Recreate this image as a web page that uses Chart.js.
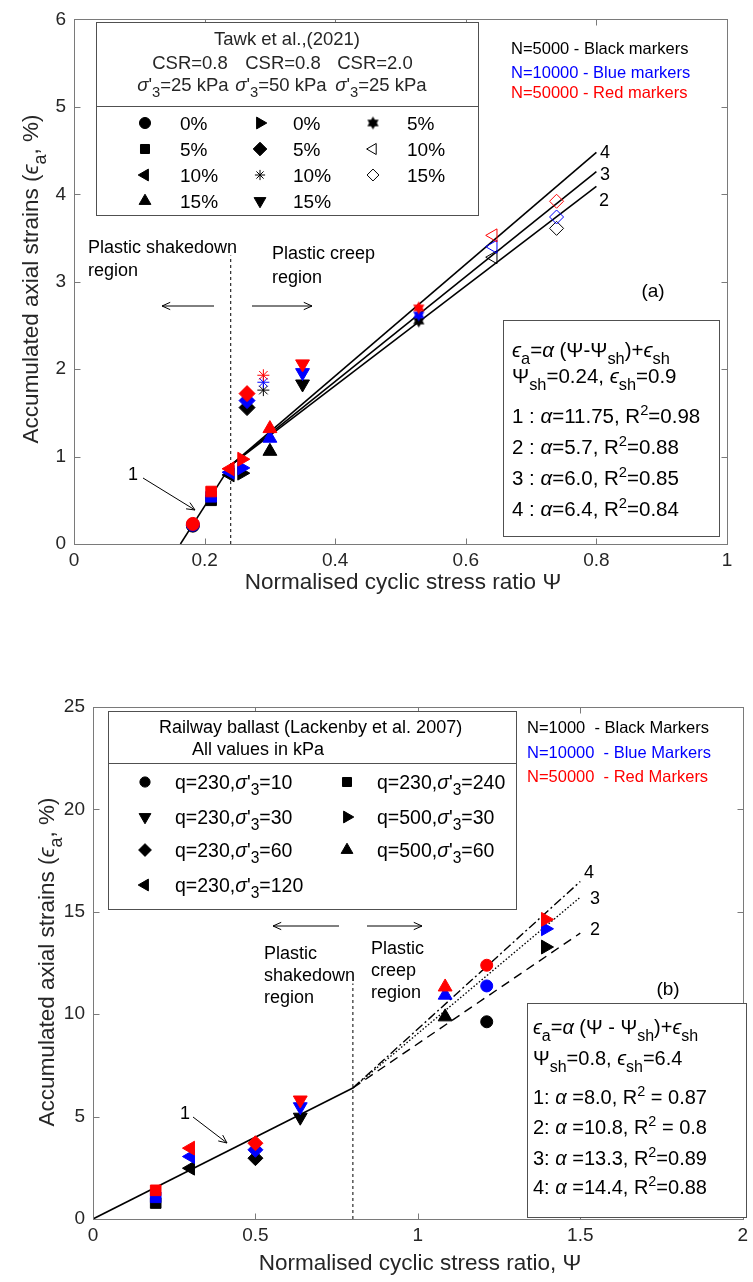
<!DOCTYPE html>
<html lang="en">
<head>
<meta charset="UTF-8" />
<title>Accumulated axial strain vs normalised cyclic stress ratio</title>
<script src="https://cdn.jsdelivr.net/npm/chart.js"></script>
<style>
  body { margin: 0; background: #fff; }
  .wrap { position: relative; width: 753px; height: 1282px; }
  canvas { position: absolute; left: 0; }
  #chartTop { top: 0; }
  #chartBottom { top: 640px; }
</style>
</head>
<body>
<div class="wrap">
  <canvas id="chartTop" width="753" height="640"></canvas>
  <canvas id="chartBottom" width="753" height="642"></canvas>
</div>
<script>
// ---------- panel (a): Tawk et al. (2021) ----------
const topLegendText = ['0%', '5%', '10%', '15%', '0%', '5%', '10%', '15%', '5%', '10%', '15%'];
const topPsi      = [0.182, 0.210, 0.239, 0.300, 0.257, 0.265, 0.290, 0.350, 0.528, 0.642, 0.739];
const topEpsN5000  = [0.21, 0.50, 0.79, 1.06, 0.81, 1.56, 1.76, 1.83, 2.55, 3.28, 3.61];
const topEpsN10000 = [0.22, 0.54, 0.82, 1.21, 0.87, 1.64, 1.85, 1.96, 2.62, 3.40, 3.74];
const topEpsN50000 = [0.23, 0.60, 0.86, 1.32, 0.97, 1.72, 1.93, 2.06, 2.70, 3.53, 3.92];
const topXTicks = [0, 0.2, 0.4, 0.6, 0.8, 1];
const topXTickLabels = ['0', '0.2', '0.4', '0.6', '0.8', '1'];
const topYTicks = [0, 1, 2, 3, 4, 5, 6];
const topYTickLabels = ['0', '1', '2', '3', '4', '5', '6'];
// fitted lines
const topFit1Psi = [0.163, 0.24];
const topFit1Eps = [0, 0.9];
const topFitPsi  = [0.24, 0.8];
const topFit2Eps = [0.9, 4.09];
const topFit3Eps = [0.9, 4.26];
const topFit4Eps = [0.9, 4.48];
const topShakePsi = [0.24, 0.24];
const topShakeEps = [0, 3.3];

// ---------- panel (b): Lackenby et al. (2007) ----------
const botLegendText = ['q=230,σ\'_{3}=10', 'q=230,σ\'_{3}=240', 'q=230,σ\'_{3}=30', 'q=500,σ\'_{3}=30',
                       'q=230,σ\'_{3}=60', 'q=500,σ\'_{3}=60', 'q=230,σ\'_{3}=120'];
const botPsi       = [1.212, 0.193, 0.638, 1.393, 0.500, 1.084, 0.300];
const botEpsN1000  = [9.63, 0.78, 4.97, 13.28, 2.97, 9.87, 2.48];
const botEpsN10000 = [11.38, 1.06, 5.48, 14.17, 3.38, 10.93, 3.05];
const botEpsN50000 = [12.39, 1.40, 5.81, 14.63, 3.70, 11.33, 3.46];
const botXTicks = [0, 0.5, 1, 1.5, 2];
const botXTickLabels = ['0', '0.5', '1', '1.5', '2'];
const botYTicks = [0, 5, 10, 15, 20, 25];
const botYTickLabels = ['0', '5', '10', '15', '20', '25'];
const botFit1Psi = [0, 0.8];
const botFit1Eps = [0, 6.4];
const botFitPsi  = [0.8, 1.5];
const botFit2Eps = [6.4, 13.96];
const botFit3Eps = [6.4, 15.71];
const botFit4Eps = [6.4, 16.48];
const botShakePsi = [0.8, 0.8];
const botShakeEps = [0, 11.5];

// ---------- styles ----------
const FONT = '"Liberation Sans", Arial, Helvetica, sans-serif';
const AXIS = '#7a7a7a';
const TEXT = '#262626';
const BLACK = '#000000', BLUE = '#0000ff', RED = '#ff0000';

function hexagram(color, r) {
  const c = document.createElement('canvas');
  c.width = c.height = Math.ceil(2 * r + 2);
  const g = c.getContext('2d');
  const cx = c.width / 2, cy = c.height / 2;
  g.fillStyle = color;
  [0, 180].forEach(function (off) {
    g.beginPath();
    for (let k = 0; k < 3; k++) {
      const a = (off + k * 120 - 90) * Math.PI / 180;
      const px = cx + Math.cos(a) * r, py = cy + Math.sin(a) * r;
      if (k === 0) g.moveTo(px, py); else g.lineTo(px, py);
    }
    g.closePath();
    g.fill();
  });
  return c;
}

// marker styles per category (same order as the data arrays)
const topStyles = [
  { s: 'circle', r: 6.5, rot: 0 },
  { s: 'rect', r: 7.5, rot: 0 },
  { s: 'triangle', r: 8, rot: 270 },
  { s: 'triangle', r: 8, rot: 0 },
  { s: 'triangle', r: 8, rot: 90 },
  { s: 'rectRot', r: 8, rot: 0 },
  { s: 'star', r: 6, rot: 0 },
  { s: 'triangle', r: 8, rot: 180 },
  { s: 'hex', r: 6.5, rot: 0 },
  { s: 'triangle', r: 7.5, rot: 270, open: true },
  { s: 'rectRot', r: 7, rot: 0, open: true }
];
const botStyles = [
  { s: 'circle', r: 6, rot: 0 },
  { s: 'rect', r: 7.5, rot: 0 },
  { s: 'triangle', r: 8, rot: 180 },
  { s: 'triangle', r: 8, rot: 90 },
  { s: 'rectRot', r: 7.5, rot: 0 },
  { s: 'triangle', r: 8, rot: 0 },
  { s: 'triangle', r: 8, rot: 270 }
];

function pointStyleFor(st, color) {
  return st.s === 'hex' ? hexagram(color, st.r) : st.s;
}

function markerDataset(label, psi, eps, styles, color, order) {
  return {
    label: label,
    data: psi.map(function (p, i) { return { x: p, y: eps[i] }; }),
    showLine: false,
    pointStyle: styles.map(function (st) { return pointStyleFor(st, color); }),
    pointRadius: styles.map(function (st) { return st.r; }),
    pointRotation: styles.map(function (st) { return st.rot; }),
    pointBackgroundColor: styles.map(function (st) { return st.open ? 'rgba(0,0,0,0)' : color; }),
    pointBorderColor: color,
    pointBorderWidth: 1,
    order: order
  };
}

function lineDataset(psi, eps, dash, width) {
  return {
    data: psi.map(function (p, i) { return { x: p, y: eps[i] }; }),
    showLine: true,
    borderColor: '#000',
    borderWidth: width || 1.6,
    borderDash: dash || [],
    pointRadius: 0,
    fill: false,
    order: 10
  };
}

// ---------- text helpers ----------
function setFont(ctx, size, italic) {
  ctx.font = (italic ? 'italic ' : '') + size + 'px ' + FONT;
}
function parseRich(str) {
  const out = [];
  str.split(/(_\{[^}]*\}|\^\{[^}]*\})/).forEach(function (piece) {
    if (!piece) return;
    if (piece.indexOf('_{') === 0) out.push([piece.slice(2, -1), 'b']);
    else if (piece.indexOf('^{') === 0) out.push([piece.slice(2, -1), 'p']);
    else piece.split(/([αϵσ])/).forEach(function (q) {
      if (q) out.push([q, /[αϵσ]/.test(q) ? 'i' : '']);
    });
  });
  return out;
}
function rich(ctx, str, x, cy, size, align, color) {
  const segs = parseRich(str).map(function (p) {
    const fs = p[1] === 'b' ? size * 0.8 : p[1] === 'p' ? size * 0.72 : size;
    setFont(ctx, fs, p[1] === 'i');
    return { t: p[0], k: p[1], fs: fs, w: ctx.measureText(p[0]).width };
  });
  const total = segs.reduce(function (a, s) { return a + s.w; }, 0);
  let sx = align === 'center' ? x - total / 2 : align === 'right' ? x - total : x;
  const base = cy + size * 0.36;
  ctx.fillStyle = color || TEXT;
  ctx.textAlign = 'left';
  ctx.textBaseline = 'alphabetic';
  segs.forEach(function (s) {
    setFont(ctx, s.fs, s.k === 'i');
    const dy = s.k === 'b' ? size * 0.33 : s.k === 'p' ? -size * 0.42 : 0;
    ctx.fillText(s.t, sx, base + dy);
    sx += s.w;
  });
  return total;
}
function arrow(ctx, x1, y1, x2, y2) {
  const a = Math.atan2(y2 - y1, x2 - x1), h = 9, sp = 0.42;
  ctx.beginPath();
  ctx.moveTo(x1, y1); ctx.lineTo(x2, y2);
  ctx.moveTo(x2 - h * Math.cos(a - sp), y2 - h * Math.sin(a - sp));
  ctx.lineTo(x2, y2);
  ctx.lineTo(x2 - h * Math.cos(a + sp), y2 - h * Math.sin(a + sp));
  ctx.stroke();
}
function legendMarker(ctx, st, x, y) {
  ctx.save();
  ctx.fillStyle = st.open ? 'rgba(0,0,0,0)' : '#000';
  ctx.strokeStyle = '#000';
  ctx.lineWidth = 1;
  Chart.helpers.drawPoint(ctx, {
    pointStyle: pointStyleFor(st, '#000'),
    radius: st.r * 0.85,
    rotation: st.rot,
    borderWidth: 1
  }, x, y);
  ctx.restore();
}
function drawFrame(chart, xt, yt) {
  const ctx = chart.ctx, a = chart.chartArea, sx = chart.scales.x, sy = chart.scales.y;
  const L = Math.round(a.left) + 0.5, R = Math.round(a.right) + 0.5;
  const T = Math.round(a.top) + 0.5, B = Math.round(a.bottom) + 0.5;
  ctx.save();
  ctx.strokeStyle = AXIS;
  ctx.lineWidth = 1;
  ctx.strokeRect(L, T, R - L, B - T);
  ctx.beginPath();
  xt.forEach(function (v) {
    const p = Math.round(sx.getPixelForValue(v)) + 0.5;
    ctx.moveTo(p, B); ctx.lineTo(p, B - 6);
    ctx.moveTo(p, T); ctx.lineTo(p, T + 6);
  });
  yt.forEach(function (v) {
    const p = Math.round(sy.getPixelForValue(v)) + 0.5;
    ctx.moveTo(L, p); ctx.lineTo(L + 6, p);
    ctx.moveTo(R, p); ctx.lineTo(R - 6, p);
  });
  ctx.stroke();
  ctx.restore();
}
function box(ctx, x, y, w, h) {
  ctx.fillStyle = '#fff';
  ctx.fillRect(x, y, w, h);
  ctx.strokeStyle = '#505050';
  ctx.lineWidth = 1;
  ctx.strokeRect(x + 0.5, y + 0.5, w, h);
}

function axisOptions(xMin, xMax, yMin, yMax, xt, xl, yt, yl, yWidth, xHeight) {
  const tickFont = { family: FONT, size: 19 };
  return {
    x: {
      type: 'linear', min: xMin, max: xMax,
      afterBuildTicks: function (s) { s.ticks = xt.map(function (v) { return { value: v }; }); },
      afterFit: function (s) { s.height = xHeight; },
      ticks: { callback: function (v, i) { return xl[i]; }, font: tickFont, color: TEXT, padding: 5, maxRotation: 0, autoSkip: false },
      grid: { display: false, drawTicks: false }, border: { display: false }
    },
    y: {
      type: 'linear', min: yMin, max: yMax,
      afterBuildTicks: function (s) { s.ticks = yt.map(function (v) { return { value: v }; }); },
      afterFit: function (s) { s.width = yWidth; },
      ticks: { callback: function (v, i) { return yl[i]; }, font: tickFont, color: TEXT, padding: 8, autoSkip: false },
      grid: { display: false, drawTicks: false }, border: { display: false }
    }
  };
}

// ---------- panel (a) ----------
const topAnnotations = {
  id: 'topAnnotations',
  afterDraw: function (chart) {
    const ctx = chart.ctx;
    drawFrame(chart, topXTicks, topYTicks);
    ctx.save();
    // axis titles
    rich(ctx, 'Normalised cyclic stress ratio Ψ', 403, 581, 22.5, 'center');
    ctx.save();
    ctx.translate(30, 279);
    ctx.rotate(-Math.PI / 2);
    rich(ctx, 'Accumulated axial strains (ϵ_{a}, %)', 0, 0, 22.5, 'center');
    ctx.restore();

    // legend box
    box(ctx, 96, 22, 382, 193);
    ctx.strokeStyle = '#505050';
    ctx.beginPath(); ctx.moveTo(96, 106.5); ctx.lineTo(478, 106.5); ctx.stroke();
    rich(ctx, 'Tawk et al.,(2021)', 287, 38, 18.5, 'center');
    rich(ctx, 'CSR=0.8', 190, 62, 18.5, 'center');
    rich(ctx, 'CSR=0.8', 283, 62, 18.5, 'center');
    rich(ctx, 'CSR=2.0', 375, 62, 18.5, 'center');
    rich(ctx, 'σ\'_{3}=25 kPa', 183, 84, 18.5, 'center');
    rich(ctx, 'σ\'_{3}=50 kPa', 281, 84, 18.5, 'center');
    rich(ctx, 'σ\'_{3}=25 kPa', 381, 84, 18.5, 'center');
    const colMarker = [145, 260, 373], colText = [180, 293, 407], rowY = [123, 149, 175, 201];
    const slots = [[0, 0], [0, 1], [0, 2], [0, 3], [1, 0], [1, 1], [1, 2], [1, 3], [2, 0], [2, 1], [2, 2]];
    topLegendText.forEach(function (t, i) {
      const c = slots[i][0], r = slots[i][1];
      legendMarker(ctx, topStyles[i], colMarker[c], rowY[r]);
      rich(ctx, t, colText[c], rowY[r], 19, 'left', '#000');
    });

    // N colour key
    rich(ctx, 'N=5000 - Black markers', 511, 48, 16.5, 'left', BLACK);
    rich(ctx, 'N=10000 - Blue markers', 511, 72, 16.5, 'left', BLUE);
    rich(ctx, 'N=50000 - Red markers', 511, 92, 16.5, 'left', RED);

    // regions
    rich(ctx, 'Plastic shakedown', 88, 247, 18, 'left', '#000');
    rich(ctx, 'region', 88, 270, 18, 'left', '#000');
    rich(ctx, 'Plastic creep', 272, 253, 18, 'left', '#000');
    rich(ctx, 'region', 272, 277, 18, 'left', '#000');
    ctx.strokeStyle = '#000';
    ctx.lineWidth = 1;
    arrow(ctx, 214, 306, 162, 306);
    arrow(ctx, 252, 306, 312, 306);
    arrow(ctx, 143, 478, 195, 510);
    rich(ctx, '1', 133, 474, 18, 'center', '#000');
    rich(ctx, '4', 605, 152, 18, 'center', '#000');
    rich(ctx, '3', 605, 174, 18, 'center', '#000');
    rich(ctx, '2', 604, 200, 18, 'center', '#000');
    rich(ctx, '(a)', 653, 290, 19, 'center', '#000');

    // equation box
    box(ctx, 503, 320, 216, 216);
    rich(ctx, 'ϵ_{a}=α (Ψ-Ψ_{sh})+ϵ_{sh}', 512, 350, 20.5, 'left', '#000');
    rich(ctx, 'Ψ_{sh}=0.24, ϵ_{sh}=0.9', 512, 376, 20.5, 'left', '#000');
    rich(ctx, '1 : α=11.75, R^{2}=0.98', 512, 416, 20.5, 'left', '#000');
    rich(ctx, '2 : α=5.7, R^{2}=0.88', 512, 447, 20.5, 'left', '#000');
    rich(ctx, '3 : α=6.0, R^{2}=0.85', 512, 478, 20.5, 'left', '#000');
    rich(ctx, '4 : α=6.4, R^{2}=0.84', 512, 509, 20.5, 'left', '#000');
    ctx.restore();
  }
};

new Chart(document.getElementById('chartTop'), {
  type: 'scatter',
  data: {
    datasets: [
      markerDataset('N=50000', topPsi, topEpsN50000, topStyles, RED, 1),
      markerDataset('N=10000', topPsi, topEpsN10000, topStyles, BLUE, 2),
      markerDataset('N=5000', topPsi, topEpsN5000, topStyles, BLACK, 3),
      lineDataset(topFit1Psi, topFit1Eps),
      lineDataset(topFitPsi, topFit2Eps),
      lineDataset(topFitPsi, topFit3Eps),
      lineDataset(topFitPsi, topFit4Eps),
      lineDataset(topShakePsi, topShakeEps, [3, 3], 1)
    ]
  },
  options: {
    responsive: false,
    animation: false,
    devicePixelRatio: 1,
    layout: { padding: { left: 0, top: 13, right: 26, bottom: 0 } },
    plugins: { legend: { display: false }, tooltip: { enabled: false } },
    scales: axisOptions(0, 1, 0, 6, topXTicks, topXTickLabels, topYTicks, topYTickLabels, 74, 96)
  },
  plugins: [topAnnotations]
});

// ---------- panel (b) ----------
const botAnnotations = {
  id: 'botAnnotations',
  afterDraw: function (chart) {
    const ctx = chart.ctx;
    drawFrame(chart, botXTicks, botYTicks);
    ctx.save();
    rich(ctx, 'Normalised cyclic stress ratio, Ψ', 420, 622, 22.5, 'center');
    ctx.save();
    ctx.translate(46, 322);
    ctx.rotate(-Math.PI / 2);
    rich(ctx, 'Accumulated axial strains (ϵ_{a}, %)', 0, 0, 22.5, 'center');
    ctx.restore();

    // legend box (y values relative to this canvas, which starts at 640)
    box(ctx, 108, 71, 408, 198);
    ctx.strokeStyle = '#505050';
    ctx.beginPath(); ctx.moveTo(108, 123.5); ctx.lineTo(516, 123.5); ctx.stroke();
    rich(ctx, 'Railway ballast (Lackenby et al. 2007)', 159, 87, 18, 'left', '#000');
    rich(ctx, 'All values in kPa', 192, 109, 18, 'left', '#000');
    const colMarker = [145, 347], colText = [175, 377], rowY = [142, 177, 210, 245];
    const slots = [[0, 0], [1, 0], [0, 1], [1, 1], [0, 2], [1, 2], [0, 3]];
    botLegendText.forEach(function (t, i) {
      const c = slots[i][0], r = slots[i][1];
      legendMarker(ctx, botStyles[i], colMarker[c], rowY[r]);
      rich(ctx, t, colText[c], rowY[r], 19.5, 'left', '#000');
    });

    rich(ctx, 'N=1000  - Black Markers', 527, 87, 16.5, 'left', BLACK);
    rich(ctx, 'N=10000  - Blue Markers', 527, 112, 16.5, 'left', BLUE);
    rich(ctx, 'N=50000  - Red Markers', 527, 136, 16.5, 'left', RED);

    rich(ctx, 'Plastic', 264, 313, 18, 'left', '#000');
    rich(ctx, 'shakedown', 264, 335, 18, 'left', '#000');
    rich(ctx, 'region', 264, 357, 18, 'left', '#000');
    rich(ctx, 'Plastic', 371, 308, 18, 'left', '#000');
    rich(ctx, 'creep', 371, 330, 18, 'left', '#000');
    rich(ctx, 'region', 371, 352, 18, 'left', '#000');
    ctx.strokeStyle = '#000';
    ctx.lineWidth = 1;
    arrow(ctx, 339, 286, 273, 286);
    arrow(ctx, 367, 286, 422, 286);
    arrow(ctx, 193, 477, 227, 503);
    rich(ctx, '1', 185, 473, 18, 'center', '#000');
    rich(ctx, '4', 589, 232, 18, 'center', '#000');
    rich(ctx, '3', 595, 258, 18, 'center', '#000');
    rich(ctx, '2', 595, 289, 18, 'center', '#000');
    rich(ctx, '(b)', 668, 348, 19, 'center', '#000');

    box(ctx, 527, 363, 219, 214);
    rich(ctx, 'ϵ_{a}=α (Ψ - Ψ_{sh})+ϵ_{sh}', 533, 387, 20, 'left', '#000');
    rich(ctx, 'Ψ_{sh}=0.8, ϵ_{sh}=6.4', 533, 418, 20, 'left', '#000');
    rich(ctx, '1: α =8.0, R^{2} = 0.87', 533, 457, 20, 'left', '#000');
    rich(ctx, '2: α =10.8, R^{2} = 0.8', 533, 487, 20, 'left', '#000');
    rich(ctx, '3: α =13.3, R^{2}=0.89', 533, 518, 20, 'left', '#000');
    rich(ctx, '4: α =14.4, R^{2}=0.88', 533, 547, 20, 'left', '#000');
    ctx.restore();
  }
};

new Chart(document.getElementById('chartBottom'), {
  type: 'scatter',
  data: {
    datasets: [
      markerDataset('N=50000', botPsi, botEpsN50000, botStyles, RED, 1),
      markerDataset('N=10000', botPsi, botEpsN10000, botStyles, BLUE, 2),
      markerDataset('N=1000', botPsi, botEpsN1000, botStyles, BLACK, 3),
      lineDataset(botFit1Psi, botFit1Eps),
      lineDataset(botFitPsi, botFit2Eps, [9, 6], 1.4),
      lineDataset(botFitPsi, botFit3Eps, [1.5, 2], 1.4),
      lineDataset(botFitPsi, botFit4Eps, [9, 3, 2, 3], 1.4),
      lineDataset(botShakePsi, botShakeEps, [3, 3], 1)
    ]
  },
  options: {
    responsive: false,
    animation: false,
    devicePixelRatio: 1,
    layout: { padding: { left: 0, top: 67, right: 7, bottom: 0 } },
    plugins: { legend: { display: false }, tooltip: { enabled: false } },
    scales: axisOptions(0, 2, 0, 25, botXTicks, botXTickLabels, botYTicks, botYTickLabels, 93, 63)
  },
  plugins: [botAnnotations]
});
</script>
</body>
</html>
